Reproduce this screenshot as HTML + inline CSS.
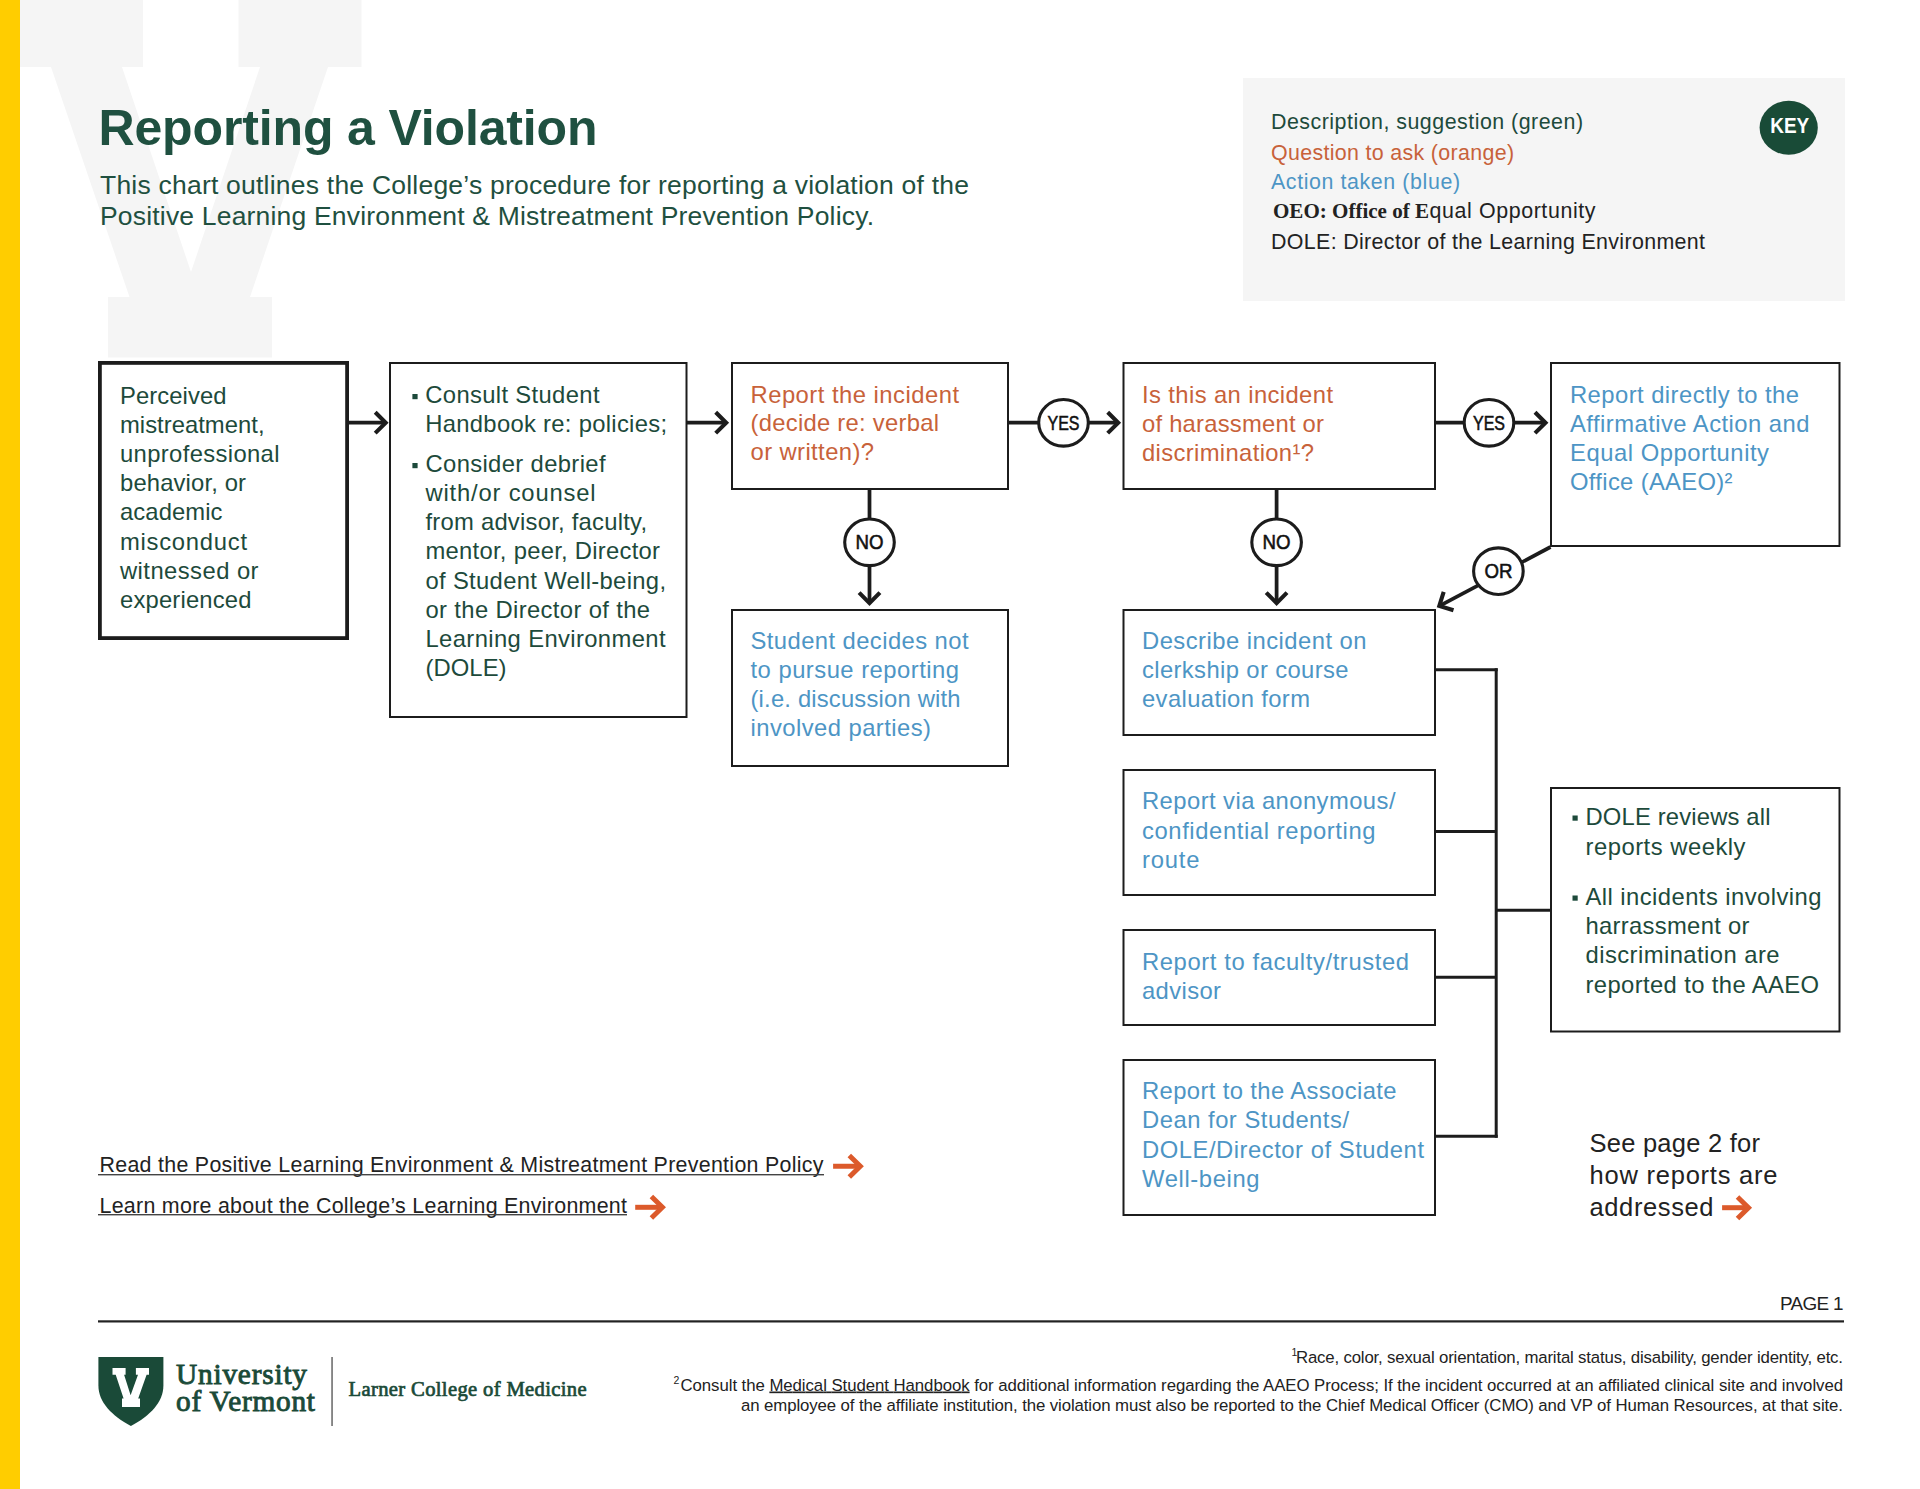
<!DOCTYPE html>
<html><head><meta charset="utf-8"><title>Reporting a Violation</title>
<style>
html,body{margin:0;padding:0;background:#ffffff;}
body{width:1920px;height:1489px;overflow:hidden;position:relative;}
svg{position:absolute;left:0;top:0;display:block;font-family:"Liberation Sans", sans-serif;}
</style></head>
<body>
<svg width="1920" height="1489" viewBox="0 0 1920 1489">
<polygon fill="#f5f5f5" points="0,0 143,0 143,67 122,67 191,272 260,67 238.5,67 238.5,0 361.5,0 361.5,67 328,67 250,297 272,297 272,357.5 108,357.5 108,297 129.5,297 51,67 0,67"/>
<rect x="0" y="0" width="20" height="1489" fill="#ffcd00"/>
<text x="98.5" y="145.0" font-size="50" fill="#1f5040" font-weight="700" textLength="499.0" lengthAdjust="spacing">Reporting a Violation</text>
<text x="100.0" y="194.0" font-size="26.5" fill="#1f5040" textLength="869.0" lengthAdjust="spacing">This chart outlines the College’s procedure for reporting a violation of the</text>
<text x="100.0" y="225.0" font-size="26.5" fill="#1f5040" textLength="774.0" lengthAdjust="spacing">Positive Learning Environment &amp; Mistreatment Prevention Policy.</text>
<rect x="1243" y="78" width="602" height="223" fill="#f5f5f5"/>
<ellipse cx="1788.7" cy="127.75" rx="29.1" ry="27" fill="#194b37"/>
<text x="1770.2" y="132.8" font-size="22" font-weight="700" fill="#ffffff" textLength="39" lengthAdjust="spacingAndGlyphs">KEY</text>
<text x="1271.0" y="129.0" font-size="21.4" fill="#1d4a3b" textLength="312.0" lengthAdjust="spacing">Description, suggestion (green)</text>
<text x="1271.0" y="159.5" font-size="21.4" fill="#c8623a" textLength="243.0" lengthAdjust="spacing">Question to ask (orange)</text>
<text x="1271.0" y="189.0" font-size="21.4" fill="#4d95c5" textLength="189.0" lengthAdjust="spacing">Action taken (blue)</text>
<text x="1273" y="217.5" font-size="21.4" fill="#222222" font-family="Liberation Serif" font-weight="700" textLength="156" lengthAdjust="spacingAndGlyphs">OEO: Office of E</text>
<text x="1429.5" y="217.5" font-size="21.4" fill="#222222" textLength="166" lengthAdjust="spacing">qual Opportunity</text>
<text x="1271.0" y="248.5" font-size="21.4" fill="#222222" textLength="434.0" lengthAdjust="spacing">DOLE: Director of the Learning Environment</text>
<rect x="99.9" y="362.9" width="247.2" height="275.2" fill="none" stroke="#1c1c1c" stroke-width="3.8"/>
<rect x="390.0" y="363.0" width="296.5" height="354" fill="none" stroke="#1c1c1c" stroke-width="2"/>
<rect x="732.0" y="363.0" width="276" height="126" fill="none" stroke="#1c1c1c" stroke-width="2"/>
<rect x="732.0" y="610.0" width="276" height="156" fill="none" stroke="#1c1c1c" stroke-width="2"/>
<rect x="1123.5" y="363.0" width="311.5" height="126" fill="none" stroke="#1c1c1c" stroke-width="2"/>
<rect x="1551.0" y="363.0" width="288.5" height="183" fill="none" stroke="#1c1c1c" stroke-width="2"/>
<rect x="1123.5" y="610.0" width="311.5" height="125" fill="none" stroke="#1c1c1c" stroke-width="2"/>
<rect x="1123.5" y="770.0" width="311.5" height="125" fill="none" stroke="#1c1c1c" stroke-width="2"/>
<rect x="1123.5" y="930.0" width="311.5" height="95" fill="none" stroke="#1c1c1c" stroke-width="2"/>
<rect x="1123.5" y="1060.0" width="311.5" height="155" fill="none" stroke="#1c1c1c" stroke-width="2"/>
<rect x="1551.0" y="788.0" width="288.5" height="243.5" fill="none" stroke="#1c1c1c" stroke-width="2"/>
<line x1="347" y1="422.7" x2="384" y2="422.7" stroke="#1c1c1c" stroke-width="3.75"/>
<polyline points="375.2,433.1 385.7,422.7 375.2,412.3" fill="none" stroke="#1c1c1c" stroke-width="4.1" stroke-linejoin="miter" stroke-miterlimit="10"/>
<line x1="687" y1="422.7" x2="724" y2="422.7" stroke="#1c1c1c" stroke-width="3.75"/>
<polyline points="715.7,433.1 726.2,422.7 715.7,412.3" fill="none" stroke="#1c1c1c" stroke-width="4.1" stroke-linejoin="miter" stroke-miterlimit="10"/>
<line x1="1009" y1="422.7" x2="1116" y2="422.7" stroke="#1c1c1c" stroke-width="3.75"/>
<polyline points="1107.7,433.1 1118.2,422.7 1107.7,412.3" fill="none" stroke="#1c1c1c" stroke-width="4.1" stroke-linejoin="miter" stroke-miterlimit="10"/>
<line x1="1436" y1="422.7" x2="1543" y2="422.7" stroke="#1c1c1c" stroke-width="3.75"/>
<polyline points="1535.0,433.1 1545.5,422.7 1535.0,412.3" fill="none" stroke="#1c1c1c" stroke-width="4.1" stroke-linejoin="miter" stroke-miterlimit="10"/>
<ellipse cx="1063.5" cy="422.8" rx="24.8" ry="23.3" fill="#ffffff" stroke="#1c1c1c" stroke-width="3.1"/>
<text x="1047.5" y="429.6" font-size="19.8" fill="#111" stroke="#111" stroke-width="0.55" textLength="32" lengthAdjust="spacingAndGlyphs">YES</text>
<ellipse cx="1489" cy="422.8" rx="24.8" ry="23.3" fill="#ffffff" stroke="#1c1c1c" stroke-width="3.1"/>
<text x="1473.0" y="429.6" font-size="19.8" fill="#111" stroke="#111" stroke-width="0.55" textLength="32" lengthAdjust="spacingAndGlyphs">YES</text>
<line x1="869.5" y1="490" x2="869.5" y2="601" stroke="#1c1c1c" stroke-width="3.75"/>
<polyline points="859.1,592.6 869.5,603.1 879.9,592.6" fill="none" stroke="#1c1c1c" stroke-width="4.1" stroke-linejoin="miter" stroke-miterlimit="10"/>
<ellipse cx="869.5" cy="542.3" rx="24.8" ry="23.3" fill="#ffffff" stroke="#1c1c1c" stroke-width="3.1"/>
<text x="855.5" y="549.0999999999999" font-size="19.8" fill="#111" stroke="#111" stroke-width="0.55" textLength="28" lengthAdjust="spacingAndGlyphs">NO</text>
<line x1="1276.6" y1="490" x2="1276.6" y2="601" stroke="#1c1c1c" stroke-width="3.75"/>
<polyline points="1266.2,592.6 1276.6,603.1 1287.0,592.6" fill="none" stroke="#1c1c1c" stroke-width="4.1" stroke-linejoin="miter" stroke-miterlimit="10"/>
<ellipse cx="1276.6" cy="542.3" rx="24.8" ry="23.3" fill="#ffffff" stroke="#1c1c1c" stroke-width="3.1"/>
<text x="1262.6" y="549.0999999999999" font-size="19.8" fill="#111" stroke="#111" stroke-width="0.55" textLength="28" lengthAdjust="spacingAndGlyphs">NO</text>
<line x1="1550.5" y1="547" x2="1441" y2="605.1" stroke="#1c1c1c" stroke-width="3.75"/>
<polyline points="1443.7,591.9 1439.3,606.0 1453.5,610.3" fill="none" stroke="#1c1c1c" stroke-width="4.1" stroke-linejoin="miter" stroke-miterlimit="10"/>
<ellipse cx="1498.4" cy="571.2" rx="24.8" ry="23.3" fill="#ffffff" stroke="#1c1c1c" stroke-width="3.1"/>
<text x="1484.4" y="578.0" font-size="19.8" fill="#111" stroke="#111" stroke-width="0.55" textLength="28" lengthAdjust="spacingAndGlyphs">OR</text>
<line x1="1436" y1="669.7" x2="1497.7" y2="669.7" stroke="#1c1c1c" stroke-width="3"/>
<line x1="1496.2" y1="668.2" x2="1496.2" y2="1137.8" stroke="#1c1c1c" stroke-width="3"/>
<line x1="1436" y1="831.5" x2="1496" y2="831.5" stroke="#1c1c1c" stroke-width="3"/>
<line x1="1436" y1="977.3" x2="1496" y2="977.3" stroke="#1c1c1c" stroke-width="3"/>
<line x1="1436" y1="1136.3" x2="1497.7" y2="1136.3" stroke="#1c1c1c" stroke-width="3"/>
<line x1="1496" y1="910.2" x2="1550" y2="910.2" stroke="#1c1c1c" stroke-width="3"/>
<text x="120.0" y="403.5" font-size="23.8" fill="#1d4a3b" textLength="106.5" lengthAdjust="spacing">Perceived</text>
<text x="120.0" y="432.7" font-size="23.8" fill="#1d4a3b" textLength="144.5" lengthAdjust="spacing">mistreatment,</text>
<text x="120.0" y="461.9" font-size="23.8" fill="#1d4a3b" textLength="159.5" lengthAdjust="spacing">unprofessional</text>
<text x="120.0" y="491.1" font-size="23.8" fill="#1d4a3b" textLength="126.0" lengthAdjust="spacing">behavior, or</text>
<text x="120.0" y="520.3" font-size="23.8" fill="#1d4a3b" textLength="102.5" lengthAdjust="spacing">academic</text>
<text x="120.0" y="549.5" font-size="23.8" fill="#1d4a3b" textLength="127.0" lengthAdjust="spacing">misconduct</text>
<text x="120.0" y="578.7" font-size="23.8" fill="#1d4a3b" textLength="138.5" lengthAdjust="spacing">witnessed or</text>
<text x="120.0" y="607.9" font-size="23.8" fill="#1d4a3b" textLength="131.5" lengthAdjust="spacing">experienced</text>
<rect x="412.4" y="394" width="5.2" height="5.2" fill="#1d4a3b"/>
<rect x="412.4" y="463" width="5.2" height="5.2" fill="#1d4a3b"/>
<text x="425.3" y="402.5" font-size="23.8" fill="#1d4a3b" textLength="174.2" lengthAdjust="spacing">Consult Student</text>
<text x="425.3" y="431.6" font-size="23.8" fill="#1d4a3b" textLength="241.7" lengthAdjust="spacing">Handbook re: policies;</text>
<text x="425.5" y="471.7" font-size="23.8" fill="#1d4a3b" textLength="180.0" lengthAdjust="spacing">Consider debrief</text>
<text x="425.5" y="500.9" font-size="23.8" fill="#1d4a3b" textLength="170.0" lengthAdjust="spacing">with/or counsel</text>
<text x="425.5" y="530.1" font-size="23.8" fill="#1d4a3b" textLength="221.5" lengthAdjust="spacing">from advisor, faculty,</text>
<text x="425.5" y="559.3" font-size="23.8" fill="#1d4a3b" textLength="234.5" lengthAdjust="spacing">mentor, peer, Director</text>
<text x="425.5" y="588.5" font-size="23.8" fill="#1d4a3b" textLength="240.5" lengthAdjust="spacing">of Student Well-being,</text>
<text x="425.5" y="617.7" font-size="23.8" fill="#1d4a3b" textLength="224.5" lengthAdjust="spacing">or the Director of the</text>
<text x="425.5" y="646.9" font-size="23.8" fill="#1d4a3b" textLength="240.0" lengthAdjust="spacing">Learning Environment</text>
<text x="425.5" y="676.1" font-size="23.8" fill="#1d4a3b" textLength="81.0" lengthAdjust="spacing">(DOLE)</text>
<text x="750.5" y="402.7" font-size="23.8" fill="#c8623a" textLength="208.5" lengthAdjust="spacing">Report the incident</text>
<text x="750.5" y="431.3" font-size="23.8" fill="#c8623a" textLength="188.5" lengthAdjust="spacing">(decide re: verbal</text>
<text x="750.5" y="459.9" font-size="23.8" fill="#c8623a" textLength="123.5" lengthAdjust="spacing">or written)?</text>
<text x="750.5" y="648.9" font-size="23.8" fill="#4d95c5" textLength="218.0" lengthAdjust="spacing">Student decides not</text>
<text x="750.5" y="677.8" font-size="23.8" fill="#4d95c5" textLength="208.5" lengthAdjust="spacing">to pursue reporting</text>
<text x="750.5" y="706.7" font-size="23.8" fill="#4d95c5" textLength="210.0" lengthAdjust="spacing">(i.e. discussion with</text>
<text x="750.5" y="735.6" font-size="23.8" fill="#4d95c5" textLength="180.5" lengthAdjust="spacing">involved parties)</text>
<text x="1142.0" y="402.5" font-size="23.8" fill="#c8623a" textLength="191.0" lengthAdjust="spacing">Is this an incident</text>
<text x="1142.0" y="431.6" font-size="23.8" fill="#c8623a" textLength="182.0" lengthAdjust="spacing">of harassment or</text>
<text x="1142.0" y="460.7" font-size="23.8" fill="#c8623a" textLength="172.0" lengthAdjust="spacing">discrimination¹?</text>
<text x="1570.0" y="402.5" font-size="23.8" fill="#4d95c5" textLength="229.0" lengthAdjust="spacing">Report directly to the</text>
<text x="1570.0" y="431.6" font-size="23.8" fill="#4d95c5" textLength="239.5" lengthAdjust="spacing">Affirmative Action and</text>
<text x="1570.0" y="460.7" font-size="23.8" fill="#4d95c5" textLength="199.0" lengthAdjust="spacing">Equal Opportunity</text>
<text x="1570.0" y="489.8" font-size="23.8" fill="#4d95c5" textLength="162.5" lengthAdjust="spacing">Office (AAEO)²</text>
<text x="1142.0" y="648.8" font-size="23.8" fill="#4d95c5" textLength="224.5" lengthAdjust="spacing">Describe incident on</text>
<text x="1142.0" y="678.1" font-size="23.8" fill="#4d95c5" textLength="206.5" lengthAdjust="spacing">clerkship or course</text>
<text x="1142.0" y="707.4" font-size="23.8" fill="#4d95c5" textLength="168.0" lengthAdjust="spacing">evaluation form</text>
<text x="1142.0" y="809.4" font-size="23.8" fill="#4d95c5" textLength="253.5" lengthAdjust="spacing">Report via anonymous/</text>
<text x="1142.0" y="838.7" font-size="23.8" fill="#4d95c5" textLength="233.5" lengthAdjust="spacing">confidential reporting</text>
<text x="1142.0" y="868.0" font-size="23.8" fill="#4d95c5" textLength="57.5" lengthAdjust="spacing">route</text>
<text x="1142.0" y="969.7" font-size="23.8" fill="#4d95c5" textLength="267.0" lengthAdjust="spacing">Report to faculty/trusted</text>
<text x="1142.0" y="998.6" font-size="23.8" fill="#4d95c5" textLength="79.0" lengthAdjust="spacing">advisor</text>
<text x="1142.0" y="1099.2" font-size="23.8" fill="#4d95c5" textLength="254.5" lengthAdjust="spacing">Report to the Associate</text>
<text x="1142.0" y="1128.4" font-size="23.8" fill="#4d95c5" textLength="207.0" lengthAdjust="spacing">Dean for Students/</text>
<text x="1142.0" y="1157.6" font-size="23.8" fill="#4d95c5" textLength="282.0" lengthAdjust="spacing">DOLE/Director of Student</text>
<text x="1142.0" y="1186.8" font-size="23.8" fill="#4d95c5" textLength="117.5" lengthAdjust="spacing">Well-being</text>
<rect x="1572.5" y="815.5" width="5.2" height="5.2" fill="#1d4a3b"/>
<rect x="1572.5" y="895.5" width="5.2" height="5.2" fill="#1d4a3b"/>
<text x="1585.5" y="825.2" font-size="23.8" fill="#1d4a3b" textLength="185.0" lengthAdjust="spacing">DOLE reviews all</text>
<text x="1585.5" y="855.0" font-size="23.8" fill="#1d4a3b" textLength="160.0" lengthAdjust="spacing">reports weekly</text>
<text x="1585.5" y="905.2" font-size="23.8" fill="#1d4a3b" textLength="236.0" lengthAdjust="spacing">All incidents involving</text>
<text x="1585.5" y="934.3" font-size="23.8" fill="#1d4a3b" textLength="164.0" lengthAdjust="spacing">harrassment or</text>
<text x="1585.5" y="963.4" font-size="23.8" fill="#1d4a3b" textLength="194.0" lengthAdjust="spacing">discrimination are</text>
<text x="1585.5" y="992.5" font-size="23.8" fill="#1d4a3b" textLength="233.5" lengthAdjust="spacing">reported to the AAEO</text>
<text x="1589.5" y="1152.4" font-size="25.5" fill="#222222" textLength="170.5" lengthAdjust="spacing">See page 2 for</text>
<text x="1589.5" y="1184.0" font-size="25.5" fill="#222222" textLength="188.0" lengthAdjust="spacing">how reports are</text>
<text x="1589.5" y="1215.6" font-size="25.5" fill="#222222" textLength="124.0" lengthAdjust="spacing">addressed</text>
<line x1="1722.1" y1="1207.7" x2="1746.5" y2="1207.7" stroke="#dc5a2b" stroke-width="5"/>
<polyline points="1737.5,1196.95 1748.5,1207.7 1737.5,1218.45" fill="none" stroke="#dc5a2b" stroke-width="5" stroke-miterlimit="10"/>
<text x="99.5" y="1172.3" font-size="21.4" fill="#222222" textLength="724.0" lengthAdjust="spacing">Read the Positive Learning Environment &amp; Mistreatment Prevention Policy</text>
<rect x="98" y="1174" width="726" height="1.4" fill="#444"/>
<line x1="833.1" y1="1166.25" x2="858.3000000000001" y2="1166.25" stroke="#dc5a2b" stroke-width="5"/>
<polyline points="849.3000000000001,1155.5 860.3000000000001,1166.25 849.3000000000001,1177.0" fill="none" stroke="#dc5a2b" stroke-width="5" stroke-miterlimit="10"/>
<text x="99.5" y="1212.5" font-size="21.4" fill="#222222" textLength="527.5" lengthAdjust="spacing">Learn more about the College’s Learning Environment</text>
<rect x="98" y="1214" width="529" height="1.4" fill="#444"/>
<line x1="635.2" y1="1207.3" x2="660.4" y2="1207.3" stroke="#dc5a2b" stroke-width="5"/>
<polyline points="651.4,1196.55 662.4,1207.3 651.4,1218.05" fill="none" stroke="#dc5a2b" stroke-width="5" stroke-miterlimit="10"/>
<text x="1780.0" y="1309.6" font-size="18.9" fill="#222222" textLength="63.5" lengthAdjust="spacing">PAGE 1</text>
<rect x="98" y="1320.3" width="1746" height="2.2" fill="#222"/>
<text x="1291.5" y="1356.0" font-size="10.5" fill="#222222">1</text>
<text x="1296.0" y="1362.5" font-size="16.8" fill="#222222" textLength="547.0" lengthAdjust="spacing">Race, color, sexual orientation, marital status, disability, gender identity, etc.</text>
<text x="673.5" y="1384.0" font-size="10.5" fill="#222222">2</text>
<text x="680.5" y="1390.5" font-size="16.8" fill="#222222" textLength="1162.5" lengthAdjust="spacing">Consult the <tspan text-decoration="underline">Medical Student Handbook</tspan> for additional information regarding the AAEO Process; If the incident occurred at an affiliated clinical site and involved</text>
<text x="741.0" y="1411.0" font-size="16.8" fill="#222222" textLength="1102.0" lengthAdjust="spacing">an employee of the affiliate institution, the violation must also be reported to the Chief Medical Officer (CMO) and VP of Human Resources, at that site.</text>
<path fill="#1a4a38" d="M98.4,1357.1 L163.4,1357.1 L163.4,1385.5 C163.4,1402 150,1416 130.9,1425.9 C111.8,1416 98.4,1402 98.4,1385.5 Z"/>
<path fill="#ffffff" d="M112.5,1368 L125.6,1368 L125.6,1374.8 L124.1,1374.8 L130.6,1395.3 L138,1374.8 L135.9,1374.8 L135.9,1368 L149,1368 L149,1374.8 L146.6,1374.8 L138.2,1398.6 L140,1398.6 L140,1407 L122,1407 L122,1398.6 L123.6,1398.6 L115.7,1374.8 L112.5,1374.8 Z"/>
<text x="176.0" y="1383.8" font-size="29.3" fill="#1a4a38" font-family="Liberation Serif" textLength="131.0" lengthAdjust="spacing" stroke="#1a4a38" stroke-width="0.9">University</text>
<text x="176.0" y="1411.2" font-size="29.3" fill="#1a4a38" font-family="Liberation Serif" textLength="139.0" lengthAdjust="spacing" stroke="#1a4a38" stroke-width="0.9">of Vermont</text>
<rect x="331.3" y="1357" width="1.5" height="69" fill="#666666"/>
<text x="348.6" y="1396.2" font-size="20.6" fill="#1a4a38" font-family="Liberation Serif" textLength="238.0" lengthAdjust="spacing" stroke="#1a4a38" stroke-width="0.7">Larner College of Medicine</text>
</svg>
</body></html>
